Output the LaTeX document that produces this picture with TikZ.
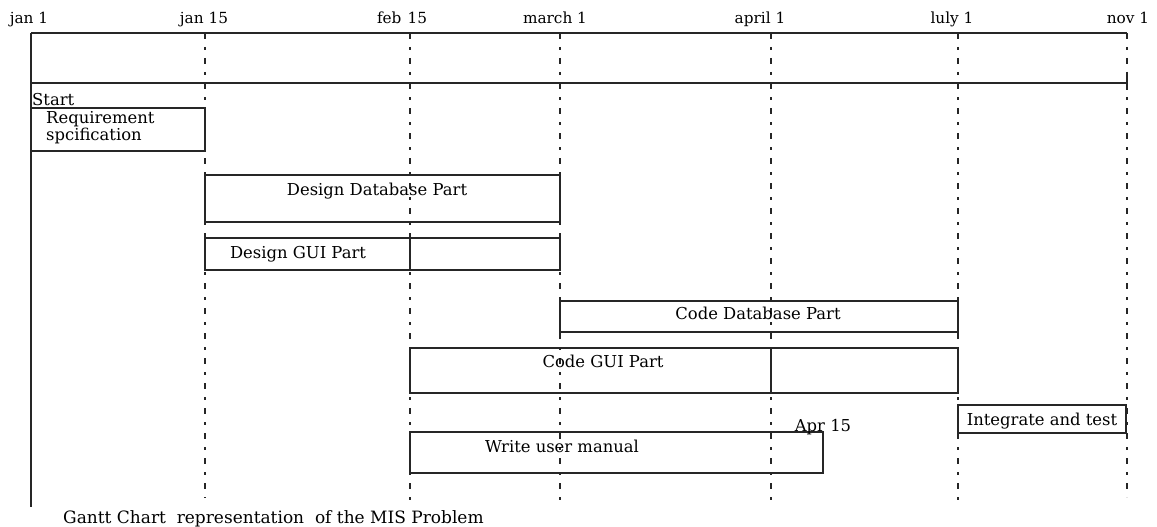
\documentclass[tikz,border=0pt]{standalone}
\usepackage{fontspec}
\setmainfont{DejaVu Serif}
\begin{document}
\begin{tikzpicture}[x=1pt,y=-1pt,
  solidline/.style={line width=1.3pt,draw=black!85},
  gridline/.style={line width=1.4pt,draw=black!85,dash pattern=on 6pt off 8pt on 3pt off 8pt},
  taskbox/.style={rectangle,draw=black!85,line width=1.3pt,inner sep=0pt,outer sep=0pt,anchor=north west},
  lbl/.style={inner sep=0pt,font=\fontsize{16.4}{20}\selectfont},
  toplbl/.style={inner sep=0pt,anchor=base,font=\fontsize{15.3}{18}\selectfont}]
\useasboundingbox (0,0) rectangle (1157,527);
% date labels
\node[toplbl] (ljan1) at (29,24) {jan 1};
\node[toplbl] (ljan15) at (204,24) {jan 15};
\node[toplbl] (lfeb15) at (402,24) {feb\hspace{6pt}15};
\node[toplbl] (lmar1) at (555,24) {march 1};
\node[toplbl] (lapr1) at (760,24) {april 1};
\node[toplbl] (ljul1) at (952,24) {luly 1};
\node[toplbl] (lnov1) at (1128,24) {nov 1};
% grid coordinates
\coordinate (a0) at (31,33);   \coordinate (a1) at (31,507);
\coordinate (b0) at (205,33);  \coordinate (b1) at (205,498);
\coordinate (c0) at (410,33);  \coordinate (c1) at (410,505);
\coordinate (d0) at (560,33);  \coordinate (d1) at (560,500);
\coordinate (e0) at (771,33);  \coordinate (e1) at (771,500);
\coordinate (f0) at (958,33);  \coordinate (f1) at (958,507);
\coordinate (g0) at (1127,33); \coordinate (g1) at (1127,497);
\coordinate (h0) at (31,83);   \coordinate (h1) at (1127,83);
\coordinate (t0) at (1127,72); \coordinate (t1) at (1127,90);
% axes
\draw[solidline] (a0) -- (g0);
\draw[solidline] (h0) -- (h1);
\draw[solidline] (a0) -- (a1);
\draw[solidline] (t0) -- (t1);
\draw[gridline] (b0) -- (b1);
\draw[gridline] (c0) -- (c1);
\draw[gridline] (d0) -- (d1);
\draw[gridline] (e0) -- (e1);
\draw[gridline] (f0) -- (f1);
\draw[gridline] (g0) -- (g1);
% task boxes
\node[taskbox,minimum width=174pt,minimum height=43pt] (req) at (31,108) {};
\node[taskbox,minimum width=355pt,minimum height=47pt] (ddb) at (205,175) {};
\node[taskbox,minimum width=355pt,minimum height=32pt] (dgui) at (205,238) {};
\node[taskbox,minimum width=398pt,minimum height=31pt] (cdb) at (560,301) {};
\node[taskbox,minimum width=548pt,minimum height=45pt] (cgui) at (410,348) {};
\node[taskbox,minimum width=413pt,minimum height=41pt] (wum) at (410,432) {};
\node[taskbox,minimum width=168pt,minimum height=28pt] (intg) at (958,405) {};
% dividers
\draw[solidline] (dgui.north -| c0) -- (dgui.south -| c0);
\draw[solidline] (cgui.north -| e0) -- (cgui.south -| e0);
% texts
\node[lbl,anchor=base west] (start) at (32,106) {Start};
\node[lbl,anchor=base west] (req1) at (46,123) {Requirement};
\node[lbl,anchor=base west] (req2) at (46,140) {spcification};
\node[lbl,anchor=base] (tddb) at (377,195) {Design Database Part};
\node[lbl,anchor=base] (tdgui) at (298,258) {Design GUI Part};
\node[lbl,anchor=base] (tcdb) at (758,319) {Code Database Part};
\node[lbl,anchor=base] (tcgui) at (603,367) {Code GUI Part};
\node[lbl,anchor=base] (twum) at (562,452) {Write user manual};
\node[lbl,anchor=base] (tapr) at (823,431) {Apr 15};
\node[lbl,anchor=base] (tintg) at (1042,425) {Integrate and test};
\node[lbl,anchor=base west,font=\fontsize{17}{20}\selectfont] (cap) at (63,523) {Gantt Chart\ \ representation\ \ of the MIS Problem};
\end{tikzpicture}
\end{document}
